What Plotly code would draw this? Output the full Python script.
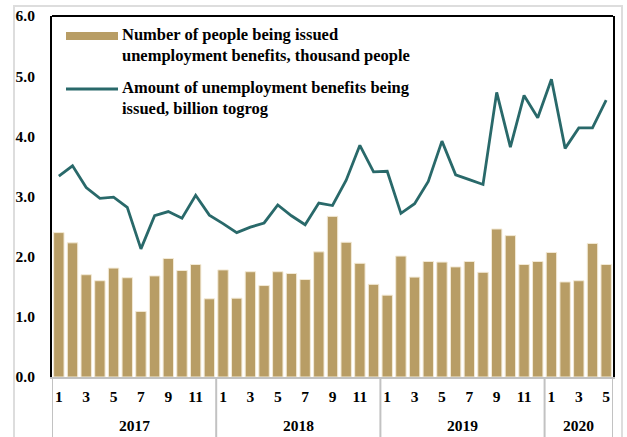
import plotly.graph_objects as go

years = ["2017"] * 12 + ["2018"] * 12 + ["2019"] * 12 + ["2020"] * 5
months = list(range(1, 13)) * 3 + [1, 2, 3, 4, 5]

people = [2.40, 2.23, 1.70, 1.60, 1.81, 1.65, 1.09, 1.68, 1.97, 1.77, 1.87, 1.30,
          1.78, 1.31, 1.75, 1.52, 1.75, 1.72, 1.62, 2.08, 2.67, 2.24, 1.89, 1.54,
          1.36, 2.01, 1.66, 1.92, 1.91, 1.83, 1.92, 1.74, 2.46, 2.35, 1.87, 1.92,
          2.07, 1.58, 1.60, 2.22, 1.87]

amount = [3.34, 3.51, 3.15, 2.97, 2.99, 2.82, 2.13, 2.68, 2.75, 2.64, 3.02, 2.69,
          2.55, 2.40, 2.49, 2.56, 2.86, 2.68, 2.53, 2.89, 2.85, 3.27, 3.85, 3.41,
          3.42, 2.72, 2.88, 3.25, 3.92, 3.36, 3.28, 3.20, 4.73, 3.82, 4.68, 4.31,
          4.95, 3.80, 4.14, 4.14, 4.60]

name_people = "Number of people being issued<br>unemployment benefits, thousand people"
name_amount = "Amount of unemployment benefits being<br>issued, billion togrog"

cats = [f"{y}-{m:02d}" for y, m in zip(years, months)]
tick_vals = [c for c, m in zip(cats, months) if m % 2 == 1]
tick_text = [str(m) for m in months if m % 2 == 1]
year_list = sorted(set(years))

BAR = "#B89D65"
LINE = "#29696A"
GRAY = "#C2C2C2"
FONT = "Liberation Serif"

fig = go.Figure()
fig.add_trace(go.Bar(x=cats, y=people, name=name_people, marker_color=BAR,
                     marker_line=dict(color="#F3EAD6", width=1), showlegend=False))
fig.add_trace(go.Scatter(x=cats, y=amount, name=name_amount, mode="lines",
                         line=dict(color=LINE, width=2.8), showlegend=False))

# custom legend
fig.add_shape(type="rect", xref="paper", yref="paper",
              x0=(66 - 52) / 561, x1=(118 - 52) / 561,
              y0=(377 - 40) / 361, y1=(377 - 32) / 361,
              fillcolor=BAR, line_width=0)
fig.add_shape(type="line", xref="paper", yref="paper",
              x0=(66 - 52) / 561, x1=(118 - 52) / 561,
              y0=(377 - 89) / 361, y1=(377 - 89) / 361,
              line=dict(color=LINE, width=2.8))
for txt, yc in [(name_people, 45), (name_amount, 98)]:
    fig.add_annotation(text=txt, xref="paper", yref="paper",
                       x=(121 - 52) / 561, y=(377 - yc) / 361,
                       xanchor="left", yanchor="middle", align="left",
                       showarrow=False, borderpad=0,
                       font=dict(family=FONT, size=16.5, color="black", weight="bold"))

# year group labels and dividers
bounds = [-0.5]
for yr in year_list:
    idx = [i for i, y in enumerate(years) if y == yr]
    mid = (idx[0] + idx[-1]) / 2
    fig.add_annotation(text=yr, xref="x", yref="paper", x=mid, y=(377 - 425) / 361,
                       xanchor="center", yanchor="middle", showarrow=False,
                       font=dict(family=FONT, size=15.5, color="black", weight="bold"))
    bounds.append(idx[-1] + 0.5)
for b in bounds:
    fig.add_shape(type="line", xref="x", yref="paper", x0=b, x1=b,
                  y0=0, y1=-70 / 361, line=dict(color=GRAY, width=2))

# top black border
fig.add_shape(type="line", xref="paper", yref="paper", x0=0, x1=1, y0=1, y1=1,
              line=dict(color="black", width=2))

fig.update_layout(
    width=627, height=437,
    margin=dict(l=52, r=14, t=16, b=60),
    paper_bgcolor="white", plot_bgcolor="white",
    bargap=0.24,
    font=dict(family=FONT, color="black", size=15),
    xaxis=dict(type="category", range=[-0.5, len(cats) - 0.5],
               showline=True, linecolor=GRAY, linewidth=2,
               showgrid=False, ticks="", tickangle=0, automargin=False,
               tickvals=tick_vals, ticktext=tick_text, ticklabelstandoff=4,
               tickfont=dict(family=FONT, size=15.5, weight="bold", color="black")),
    yaxis=dict(range=[0, 6], dtick=1, tickformat=".1f", showline=True,
               linecolor="black", linewidth=2, mirror=True, showgrid=False,
               zeroline=False, ticks="", ticklabelstandoff=12, automargin=False,
               tickfont=dict(family=FONT, size=15.5, weight="bold", color="black")),
)

# light gray outer frame
fig.add_shape(type="rect", xref="paper", yref="paper",
              x0=-38 / 561, x1=(622 - 52) / 561, y0=-0.3, y1=(377 - 6) / 361,
              line=dict(color="#DDDDDD", width=2), fillcolor="rgba(0,0,0,0)", layer="below")

fig.write_html("out.html", config={"displayModeBar": False},
               post_script="document.body.style.margin='0';document.body.style.padding='0';")
